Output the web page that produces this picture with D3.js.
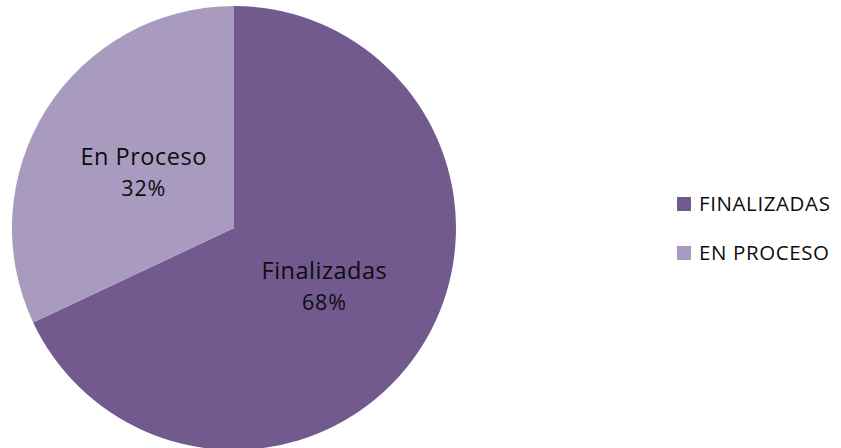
<!DOCTYPE html>
<html>
<head>
<meta charset="utf-8">
<script src="https://cdn.jsdelivr.net/npm/d3@7"></script>
<style>
  body { margin: 0; background: white; }
</style>
</head>
<body>
<script>
let w = 841;
let h = 448;

const categories = ['Finalizadas', 'En Proceso'];
const legendLabels = ['FINALIZADAS', 'EN PROCESO'];
const values = [68, 32];
const colors = ['#725a8f', '#a99bbf'];

const svg = d3.select('body')
  .append('svg')
  .attr('width', w)
  .attr('height', h)
  .style("background-color", "white");

const cx = 234, cy = 228, r = 222;

let pie = d3.pie().sort(null).value(d => d.value);
let data = categories.map((c, i) => ({ name: c, value: values[i] }));
let arcs = pie(data);

let color = d3.scaleOrdinal().domain(categories).range(colors);

let arc = d3.arc().innerRadius(0).outerRadius(r);
let labelArc = d3.arc().innerRadius(107).outerRadius(107);

const g = svg.append('g').attr('transform', `translate(${cx}, ${cy})`);

g.selectAll('path')
  .data(arcs)
  .enter()
  .append('path')
  .attr('d', arc)
  .attr('fill', d => color(d.data.name));

const total = d3.sum(values);

// labels: name + percent
const labels = g.selectAll('text.lbl')
  .data(arcs)
  .enter()
  .append('text')
  .attr('class', 'lbl')
  .attr('transform', d => `translate(${labelArc.centroid(d)})`)
  .attr('text-anchor', 'middle')
  .style('font-family', 'Open Sans, sans-serif')
  .style('fill', '#0d0d0d');

labels.append('tspan')
  .attr('x', 0)
  .attr('y', -6)
  .style('font-size', '23.5px')
  .style('letter-spacing', '0.5px')
  .text(d => d.data.name);

labels.append('tspan')
  .attr('x', 0)
  .attr('y', 25)
  .style('font-size', '21.5px')
  .style('letter-spacing', '0.8px')
  .text(d => Math.round(d.data.value / total * 100) + '%');

// legend
const legend = svg.append('g').attr('id', 'legend');

legend.selectAll('rect')
  .data(categories)
  .enter()
  .append('rect')
  .attr('x', 677)
  .attr('y', (d, i) => 197 + i * 49)
  .attr('width', 14)
  .attr('height', 14)
  .attr('fill', d => color(d));

legend.selectAll('text')
  .data(legendLabels)
  .enter()
  .append('text')
  .attr('x', 699)
  .attr('y', (d, i) => 211 + i * 49)
  .text(d => d)
  .style('font-family', 'Open Sans, sans-serif')
  .style('font-size', '20.5px')
  .style('letter-spacing', '0.6px')
  .style('fill', '#0d0d0d');
</script>
</body>
</html>
